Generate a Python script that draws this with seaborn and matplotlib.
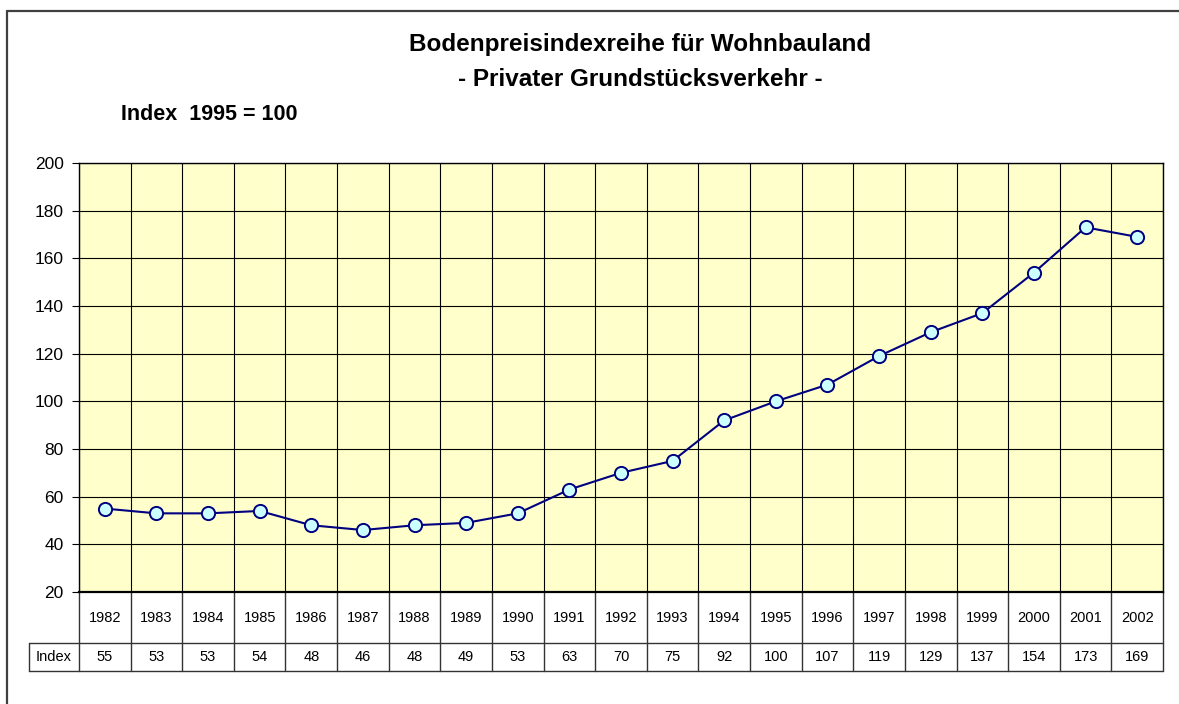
import seaborn as sns
import matplotlib.pyplot as plt
import pandas as pd
from matplotlib.lines import Line2D

# daten
jahre = ['1982', '1983', '1984', '1985', '1986', '1987', '1988', '1989', '1990', '1991', '1992',
         '1993', '1994', '1995', '1996', '1997', '1998', '1999', '2000', '2001', '2002']
indexwerte = [55, 53, 53, 54, 48, 46, 48, 49, 53, 63, 70, 75, 92, 100, 107, 119, 129, 137, 154, 173, 169]
yticks = [20, 40, 60, 80, 100, 120, 140, 160, 180, 200]

df = pd.DataFrame({'pos': range(len(jahre)), 'jahr': jahre, 'index': indexwerte})

sns.set_style('white')
plt.rcParams['font.family'] = ['Liberation Sans', 'DejaVu Sans']
plt.rcParams['text.color'] = 'black'
plt.rcParams['ytick.color'] = 'black'
plt.rcParams['ytick.labelcolor'] = 'black'

W, H = 1179, 704
fig = plt.figure(figsize=(W / 100, H / 100), dpi=100)

# plotbereich in pixeln
x0, x1, y0, y1 = 79, 1163, 163, 592
ax = fig.add_axes([x0 / W, 1 - y1 / H, (x1 - x0) / W, (y1 - y0) / H])
ax.set_facecolor('#FFFFCC')

sns.lineplot(data=df, x='pos', y='index', ax=ax, color='#000080', linewidth=1.5,
             marker='o', markersize=9.5, markerfacecolor='#CCFFFF', markeredgecolor='#000080',
             markeredgewidth=1.4, zorder=5)

n = len(jahre)
ax.set_xlim(-0.5, n - 0.5)
ax.set_ylim(20, 200)
ax.set_yticks(yticks)
ax.set_yticklabels([str(v) for v in yticks], fontsize=12.5)
ax.tick_params(axis='y', length=5, width=0.8, color='black', direction='out', pad=6, left=True)
ax.set_xticks([])
ax.set_xlabel('')
ax.set_ylabel('')

# gitter
for v in yticks:
    ax.axhline(v, color='black', linewidth=0.8, zorder=1)
for i in range(n + 1):
    ax.axvline(i - 0.5, color='black', linewidth=0.8, zorder=1)
for s in ax.spines.values():
    s.set_color('black')
    s.set_linewidth(1.0)
ax.spines['bottom'].set_linewidth(1.6)

# datentabelle unter dem diagramm
trans = ax.get_xaxis_transform()
ph = y1 - y0
r1 = -(643 - y1) / ph
r2 = -(671 - y1) / ph
lab_left = -0.5 - (x0 - 29) / ((x1 - x0) / n)
tab_kw = dict(transform=trans, color='#333333', linewidth=1.0, clip_on=False)
for i in range(n + 1):
    ax.add_line(Line2D([i - 0.5, i - 0.5], [r2, 0], **tab_kw))
ax.add_line(Line2D([lab_left, n - 0.5], [r1, r1], **tab_kw))
ax.add_line(Line2D([lab_left, n - 0.5], [r2, r2], **tab_kw))
ax.add_line(Line2D([lab_left, lab_left], [r2, r1], **tab_kw))
for i, (j, v) in enumerate(zip(jahre, indexwerte)):
    ax.text(i, r1 / 2, j, transform=trans, ha='center', va='center', fontsize=10.5)
    ax.text(i, (r1 + r2) / 2, str(v), transform=trans, ha='center', va='center', fontsize=10.5)
ax.text((lab_left - 0.5) / 2, (r1 + r2) / 2, 'Index', transform=trans, ha='center', va='center',
        fontsize=10.5)

# titel
fig.text(640 / W, 1 - 45 / H, 'Bodenpreisindexreihe für Wohnbauland', ha='center', va='center',
         fontsize=17.5, fontweight='bold')
fig.text(640 / W, 1 - 79 / H, '- Privater Grundstücksverkehr -', ha='center', va='center',
         fontsize=17.5, fontweight='bold')
fig.text(121 / W, 1 - 115 / H, 'Index  1995 = 100', ha='left', va='center',
         fontsize=15.5, fontweight='bold')

# rahmen (oben und links)
fig.add_artist(Line2D([7.5 / W, 1], [1 - 10.5 / H, 1 - 10.5 / H], transform=fig.transFigure,
                      color='#404040', linewidth=1.6))
fig.add_artist(Line2D([7.5 / W, 7.5 / W], [0, 1 - 10.5 / H], transform=fig.transFigure,
                      color='#404040', linewidth=1.6))

fig.savefig('out.png', dpi=100)
